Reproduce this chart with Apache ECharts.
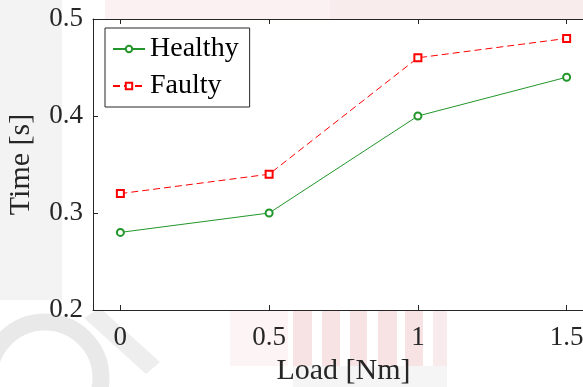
<!DOCTYPE html>
<html>
<head>
<meta charset="utf-8">
<script src="https://cdn.jsdelivr.net/npm/echarts@6/dist/echarts.min.js"></script>
<style>
  html, body { margin: 0; padding: 0; background: #ffffff; }
  #chart { width: 583px; height: 387px; }
</style>
</head>
<body>
<div id="chart"></div>
<script>
// Response time versus load, healthy vs faulty drive
const loads = [0, 0.5, 1, 1.5];
const healthy = [0.28, 0.30, 0.40, 0.44];
const faulty = [0.32, 0.34, 0.46, 0.48];
const xTicks = [0, 0.5, 1, 1.5];
const yTicks = [0.2, 0.3, 0.4, 0.5];
const seriesNames = ['Healthy', 'Faulty'];

const serif = 'Liberation Serif';
const ink = '#262626';

// faint decorative logo shapes behind the axes
const backdrop = [
  { type: 'rect', shape: { x: 0, y: 0, width: 62, height: 300 }, style: { fill: '#f3f3f3' } },
  { type: 'rect', shape: { x: 105, y: 0, width: 225, height: 19 }, style: { fill: '#fcf1f2' } },
  { type: 'rect', shape: { x: 330, y: 0, width: 253, height: 19 }, style: { fill: '#f8eced' } },
  { type: 'arc', shape: { cx: 45, cy: 378, r: 56, startAngle: Math.PI, endAngle: 2.1 * Math.PI },
    style: { stroke: '#e9e9e9', lineWidth: 17, fill: null } },
  { type: 'polygon', shape: { points: [[84, 318], [100, 308], [160, 362], [146, 374]] },
    style: { fill: '#eeeeee' } },
  { type: 'rect', shape: { x: 230, y: 310, width: 58, height: 56 }, style: { fill: '#fcf4f5' } },
  { type: 'rect', shape: { x: 293, y: 310, width: 19, height: 56 }, style: { fill: '#f7e2e4' } },
  { type: 'rect', shape: { x: 322, y: 310, width: 18, height: 56 }, style: { fill: '#f7e2e4' } },
  { type: 'rect', shape: { x: 350, y: 310, width: 17, height: 56 }, style: { fill: '#f7e2e4' } },
  { type: 'rect', shape: { x: 378, y: 310, width: 19, height: 56 }, style: { fill: '#f7e2e4' } },
  { type: 'rect', shape: { x: 405, y: 310, width: 18, height: 56 }, style: { fill: '#f7e2e4' } },
  { type: 'rect', shape: { x: 433, y: 310, width: 14, height: 56 }, style: { fill: '#f9eaec' } },
  { type: 'rect', shape: { x: 293, y: 366, width: 154, height: 21 }, style: { fill: '#f5f5f5' } }
].map(g => Object.assign({ z: -10, silent: true }, g));

const chart = echarts.init(document.getElementById('chart'));
chart.setOption({
  animation: false,
  backgroundColor: '#ffffff',
  graphic: { elements: backdrop },
  grid: {
    left: 93, top: 19, bottom: 77, right: -11,
    outerBoundsMode: 'none',
    show: true, backgroundColor: '#ffffff', borderWidth: 0
  },
  legend: {
    left: 105, top: 28,
    orient: 'vertical',
    data: seriesNames,
    backgroundColor: '#ffffff',
    borderColor: ink, borderWidth: 1,
    padding: [6, 11, 6, 7],
    itemWidth: 32, itemHeight: 8, itemGap: 7,
    textStyle: { fontFamily: serif, fontSize: 28, color: '#000', lineHeight: 30 }
  },
  xAxis: [
    {
      type: 'value', position: 'bottom',
      min: -0.092, max: 1.592,
      name: 'Load [Nm]', nameLocation: 'middle', nameGap: 42,
      nameTextStyle: { fontFamily: serif, fontSize: 30, color: ink },
      axisLine: { show: true, onZero: false, lineStyle: { color: ink, width: 1 } },
      axisTick: { show: true, inside: true, length: 5, customValues: xTicks, lineStyle: { color: ink } },
      axisLabel: {
        customValues: xTicks, margin: 14,
        fontFamily: serif, fontSize: 27, color: ink,
        formatter: v => String(v)
      },
      splitLine: { show: false }
    },
    {
      type: 'value', position: 'top',
      min: -0.092, max: 1.592,
      axisLine: { show: true, onZero: false, lineStyle: { color: ink, width: 1 } },
      axisTick: { show: true, inside: true, length: 5, customValues: xTicks, lineStyle: { color: ink } },
      axisLabel: { show: false },
      splitLine: { show: false }
    }
  ],
  yAxis: {
    type: 'value',
    min: 0.2, max: 0.5, interval: 0.1,
    name: 'Time [s]', nameLocation: 'middle', nameGap: 57,
    nameTextStyle: { fontFamily: serif, fontSize: 30, color: ink },
    axisLine: { show: true, onZero: false, lineStyle: { color: ink, width: 1 } },
    axisTick: { show: true, inside: true, length: 5, customValues: yTicks, lineStyle: { color: ink } },
    axisLabel: {
      customValues: yTicks, margin: 10,
      fontFamily: serif, fontSize: 27, color: ink,
      formatter: v => v.toFixed(1)
    },
    splitLine: { show: false }
  },
  series: [
    {
      name: seriesNames[0], type: 'line',
      data: loads.map((x, i) => [x, healthy[i]]),
      symbol: 'emptyCircle', symbolSize: 7,
      itemStyle: { color: '#22962a', borderWidth: 1 },
      lineStyle: { color: '#22962a', width: 1 }
    },
    {
      name: seriesNames[1], type: 'line',
      data: loads.map((x, i) => [x, faulty[i]]),
      symbol: 'emptyRect', symbolSize: 7,
      itemStyle: { color: '#ff0000', borderWidth: 1 },
      lineStyle: { color: '#ff0000', width: 1, type: [7, 4] }
    }
  ]
});
</script>
</body>
</html>
